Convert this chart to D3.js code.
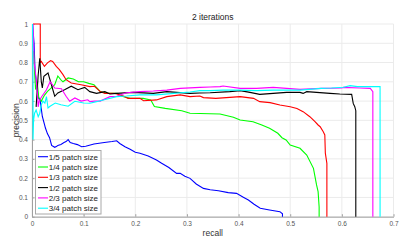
<!DOCTYPE html>
<html><head><meta charset="utf-8">
<script src="https://cdn.jsdelivr.net/npm/d3@7"></script>
<style>body{margin:0;background:#fff}svg{display:block;font-family:"Liberation Sans",Arial,sans-serif}</style>
</head><body><svg id="c" width="411" height="249"></svg>
<script>
const xTicks=[0,0.1,0.2,0.3,0.4,0.5,0.6,0.7];
const yTicks=[0,0.1,0.2,0.3,0.4,0.5,0.6,0.7,0.8,0.9,1];
const seriesNames=["1/5 patch size","1/4 patch size","1/3 patch size","1/2 patch size","2/3 patch size","3/4 patch size"];
const seriesColors=["#0000ff","#00ff00","#ff0000","#000000","#ff00ff","#00ffff"];
const blue=[[0.001,1.0],[0.004,0.9],[0.006,0.75],[0.012,0.62],[0.016,0.6],[0.02,0.52],[0.024,0.48],[0.026,0.46],[0.03,0.43],[0.034,0.41],[0.038,0.37],[0.044,0.36],[0.048,0.365],[0.05,0.37],[0.056,0.375],[0.062,0.385],[0.066,0.39],[0.07,0.40],[0.074,0.385],[0.08,0.38],[0.088,0.374],[0.096,0.363],[0.104,0.366],[0.12,0.377],[0.14,0.385],[0.155,0.39],[0.164,0.394],[0.17,0.38],[0.18,0.363],[0.19,0.35],[0.2,0.334],[0.209,0.329],[0.225,0.315],[0.241,0.294],[0.251,0.277],[0.265,0.255],[0.28,0.225],[0.287,0.225],[0.296,0.21],[0.306,0.199],[0.318,0.17],[0.332,0.147],[0.345,0.14],[0.361,0.135],[0.38,0.125],[0.396,0.121],[0.41,0.1],[0.419,0.087],[0.43,0.065],[0.442,0.044],[0.46,0.035],[0.48,0.026],[0.485,0.015],[0.485,0.0]];
const green=[[0.003,0.86],[0.005,0.75],[0.007,0.66],[0.01,0.7],[0.013,0.62],[0.018,0.6],[0.024,0.63],[0.03,0.65],[0.038,0.67],[0.044,0.685],[0.05,0.73],[0.056,0.71],[0.06,0.70],[0.07,0.72],[0.08,0.715],[0.09,0.70],[0.1,0.70],[0.11,0.692],[0.12,0.685],[0.132,0.65],[0.146,0.64],[0.165,0.64],[0.174,0.625],[0.19,0.614],[0.215,0.614],[0.23,0.606],[0.237,0.572],[0.258,0.562],[0.29,0.55],[0.306,0.537],[0.364,0.533],[0.39,0.516],[0.403,0.502],[0.428,0.493],[0.445,0.476],[0.46,0.459],[0.476,0.433],[0.484,0.41],[0.492,0.398],[0.5,0.372],[0.519,0.355],[0.532,0.32],[0.545,0.251],[0.551,0.165],[0.554,0.13],[0.556,0.05],[0.556,0.0]];
const red=[[0.002,1.0],[0.016,1.0],[0.016,0.8],[0.018,0.806],[0.024,0.78],[0.03,0.798],[0.036,0.81],[0.04,0.806],[0.047,0.78],[0.053,0.763],[0.06,0.737],[0.066,0.711],[0.076,0.694],[0.095,0.685],[0.112,0.675],[0.121,0.677],[0.128,0.659],[0.132,0.649],[0.141,0.64],[0.161,0.64],[0.177,0.626],[0.186,0.614],[0.209,0.614],[0.216,0.602],[0.241,0.606],[0.261,0.623],[0.287,0.632],[0.306,0.623],[0.325,0.626],[0.332,0.618],[0.356,0.614],[0.403,0.623],[0.429,0.614],[0.441,0.597],[0.461,0.592],[0.48,0.58],[0.5,0.571],[0.513,0.562],[0.525,0.545],[0.538,0.519],[0.548,0.493],[0.554,0.476],[0.558,0.467],[0.564,0.441],[0.567,0.424],[0.568,0.33],[0.571,0.277],[0.571,0.0]];
const black=[[0.008,0.57],[0.012,0.735],[0.015,0.822],[0.018,0.70],[0.02,0.668],[0.023,0.729],[0.031,0.746],[0.037,0.69],[0.044,0.625],[0.05,0.642],[0.063,0.659],[0.076,0.677],[0.089,0.659],[0.102,0.671],[0.112,0.649],[0.125,0.64],[0.141,0.649],[0.151,0.637],[0.164,0.64],[0.196,0.645],[0.235,0.64],[0.261,0.649],[0.306,0.64],[0.325,0.642],[0.345,0.643],[0.383,0.649],[0.403,0.654],[0.422,0.645],[0.441,0.635],[0.467,0.64],[0.493,0.645],[0.519,0.645],[0.525,0.64],[0.532,0.649],[0.551,0.645],[0.577,0.64],[0.596,0.637],[0.619,0.635],[0.622,0.588],[0.625,0.571],[0.627,0.55],[0.627,0.0]];
const magenta=[[0.002,1.0],[0.004,0.8],[0.008,0.72],[0.011,0.62],[0.012,0.57],[0.014,0.6],[0.018,0.62],[0.028,0.659],[0.035,0.70],[0.037,0.694],[0.044,0.668],[0.057,0.664],[0.066,0.625],[0.073,0.599],[0.083,0.616],[0.095,0.60],[0.108,0.607],[0.112,0.597],[0.121,0.6],[0.132,0.6],[0.151,0.623],[0.164,0.625],[0.183,0.643],[0.209,0.649],[0.235,0.652],[0.261,0.657],[0.287,0.666],[0.325,0.671],[0.345,0.673],[0.364,0.675],[0.37,0.678],[0.403,0.666],[0.435,0.666],[0.467,0.671],[0.519,0.661],[0.56,0.666],[0.6,0.668],[0.603,0.671],[0.635,0.668],[0.655,0.666],[0.66,0.649],[0.66,0.0]];
const cyan=[[0.001,1.0],[0.002,0.7],[0.002,0.4],[0.003,0.5],[0.005,0.537],[0.008,0.554],[0.012,0.519],[0.015,0.537],[0.018,0.58],[0.021,0.6],[0.025,0.589],[0.028,0.623],[0.031,0.564],[0.035,0.573],[0.045,0.59],[0.056,0.581],[0.07,0.573],[0.083,0.599],[0.1,0.59],[0.112,0.589],[0.125,0.597],[0.138,0.606],[0.164,0.623],[0.183,0.626],[0.209,0.632],[0.241,0.632],[0.274,0.64],[0.306,0.647],[0.325,0.654],[0.345,0.654],[0.37,0.657],[0.403,0.657],[0.435,0.654],[0.467,0.657],[0.519,0.657],[0.56,0.666],[0.58,0.668],[0.603,0.672],[0.616,0.68],[0.63,0.675],[0.66,0.675],[0.674,0.675],[0.674,0.0]];
const seriesData=[blue,green,red,black,magenta,cyan];

const svg=d3.select("#c");
const L=32,R=393.5,T=24,B=216.7;
const x=d3.scaleLinear().domain([0,0.7]).range([L,R]);
const y=d3.scaleLinear().domain([0,1]).range([B,T]);
const fmt=d=>d3.format("~g")(d);

// grid
svg.append("g").selectAll("line").data(xTicks).join("line")
 .attr("x1",d=>x(d)).attr("x2",d=>x(d)).attr("y1",T).attr("y2",B)
 .attr("stroke","#ebebeb").attr("stroke-width",1);
svg.append("g").selectAll("line").data(yTicks).join("line")
 .attr("x1",L).attr("x2",R).attr("y1",d=>y(d)).attr("y2",d=>y(d))
 .attr("stroke","#ebebeb").attr("stroke-width",1);

// axes
const xa=svg.append("g").attr("transform",`translate(0,${B})`)
 .call(d3.axisBottom(x).tickValues(xTicks).tickFormat(fmt).tickSizeInner(-2.5).tickSizeOuter(0).tickPadding(5));
const ya=svg.append("g").attr("transform",`translate(${L},0)`)
 .call(d3.axisLeft(y).tickValues(yTicks).tickFormat(fmt).tickSizeInner(-2.5).tickSizeOuter(0).tickPadding(4));
[xa,ya].forEach(a=>{
 a.select(".domain").attr("stroke","#a0a0a0");
 a.selectAll(".tick line").attr("stroke","#a0a0a0");
 a.selectAll("text").attr("font-size","6.5px").attr("fill","#555").attr("font-family","Liberation Sans, Arial, sans-serif");
});

// lines
const line=d3.line().x(d=>x(d[0])).y(d=>y(d[1]));
seriesData.forEach((s,i)=>{
 svg.append("path").datum(s).attr("d",line).attr("fill","none")
  .attr("stroke",seriesColors[i]).attr("stroke-width",1.1).attr("stroke-linejoin","miter");
});

// title & labels
svg.append("text").attr("x",(L+R)/2).attr("y",19.5).attr("text-anchor","middle")
 .attr("font-size","8.5px").attr("fill","#222").text("2 iterations");
svg.append("text").attr("x",(L+R)/2).attr("y",236).attr("text-anchor","middle")
 .attr("font-size","8.5px").attr("fill","#333").text("recall");
svg.append("text").attr("transform",`translate(18.5,${(T+B)/2}) rotate(-90)`).attr("text-anchor","middle")
 .attr("font-size","8.5px").attr("fill","#333").text("precision");

// legend
const lg=svg.append("g");
lg.append("rect").attr("x",35.5).attr("y",150.5).attr("width",65.5).attr("height",63.5)
 .attr("fill","#fff").attr("stroke","#a8a8a8").attr("stroke-width",1);
seriesNames.forEach((n,i)=>{
 const yy=156.7+i*10.3;
 lg.append("line").attr("x1",38).attr("x2",48).attr("y1",yy).attr("y2",yy)
  .attr("stroke",seriesColors[i]).attr("stroke-width",1.1);
 lg.append("text").attr("x",48.7).attr("y",yy+2.9).attr("font-size","8px").attr("fill","#222").text(n);
});
</script></body></html>
